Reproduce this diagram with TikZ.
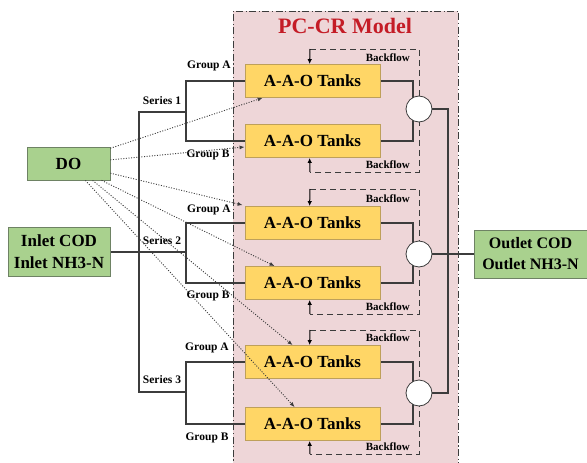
\documentclass[tikz,border=0pt]{standalone}
\usepackage{fontspec}
\setmainfont{Liberation Serif}
\usetikzlibrary{arrows.meta,calc,backgrounds}
\pgfdeclarelayer{bg}
\pgfdeclarelayer{lines}
\pgfsetlayers{bg,lines,main}
\definecolor{pinkbg}{RGB}{238,214,216}
\definecolor{tankfill}{RGB}{255,214,102}
\definecolor{tankline}{RGB}{190,160,90}
\definecolor{greenfill}{RGB}{169,209,142}
\definecolor{greenline}{RGB}{110,130,100}
\definecolor{titlered}{RGB}{196,28,38}
\definecolor{ln}{RGB}{60,60,60}
\tikzset{
  tank/.style={draw=tankline, fill=tankfill, line width=0.8pt, minimum width=135pt, minimum height=33pt, inner sep=0pt, font=\fontsize{17}{19}\selectfont\bfseries},
  gbox/.style={draw=greenline, fill=greenfill, line width=0.8pt, inner sep=0pt, align=center, font=\fontsize{17}{22}\selectfont\bfseries},
  mixer/.style={circle, draw=ln, fill=white, line width=0.8pt, minimum size=26pt, inner sep=0pt},
  conn/.style={draw=ln, line width=1.1pt},
  lbl/.style={font=\fontsize{11.5}{12}\selectfont\bfseries, inner sep=0pt},
  bflbl/.style={font=\fontsize{11}{12}\selectfont\bfseries, inner sep=0pt, anchor=east},
  bfline/.style={draw=ln, line width=1pt, dash pattern=on 6pt off 4pt},
  bfarrow/.style={draw=black, line width=1pt, -{Latex[length=5pt,width=4.5pt]}},
  doarrow/.style={draw=ln, line width=0.9pt, dash pattern=on 1pt off 1.6pt, -{Latex[length=5pt,width=4pt]}}
}
\begin{document}
\begin{tikzpicture}[x=1pt,y=-1pt]
\useasboundingbox (0,0) rectangle (587,463);
% model region
\begin{pgfonlayer}{bg}
\fill[pinkbg] (233,11) rectangle (458,470);
\draw[ln, line width=1pt, dash pattern=on 7pt off 2.5pt on 1.2pt off 2.5pt] (233,470) -- (233,11) -- (458,11) -- (458,470);
\end{pgfonlayer}
\node[font=\fontsize{22}{24}\selectfont\bfseries, text=titlered] (title) at (345,26) {PC-CR Model};

% tanks
\node[tank] (t1) at (312.5,81) {A-A-O Tanks};
\node[tank] (t2) at (312.5,141) {A-A-O Tanks};
\node[tank] (t3) at (312.5,223) {A-A-O Tanks};
\node[tank] (t4) at (312.5,283) {A-A-O Tanks};
\node[tank] (t5) at (312.5,362) {A-A-O Tanks};
\node[tank] (t6) at (312.5,424) {A-A-O Tanks};

% mixers
\node[mixer] (c1) at (419,109) {};
\node[mixer] (c2) at (419,254) {};
\node[mixer] (c3) at (419,393) {};

% green boxes
\node[gbox, minimum width=83pt, minimum height=33pt] (do) at (68.5,163.5) {DO};
\node[gbox, minimum width=102pt, minimum height=49pt] (inlet) at (59,252) {Inlet COD\\Inlet NH3-N};
\node[gbox, minimum width=113pt, minimum height=48pt, font=\fontsize{16}{21}\selectfont\bfseries] (outlet) at (530.5,254) {Outlet COD\\Outlet NH3-N};

% junction coordinates
\coordinate (s1) at (139,112);
\coordinate (s3) at (139,392);
\coordinate (g1) at (186,112);
\coordinate (g2) at (186,252);
\coordinate (g3) at (186,392);
\coordinate (o1) at (448,109);

\begin{pgfonlayer}{lines}
% inlet tree
\draw[conn] (inlet.east) -- (g2);
\draw[conn] (g1) -- (s1) -- (s3) -- (g3);
\draw[conn] (t1.west) -| (g1) |- (t2.west);
\draw[conn] (t3.west) -| (g2) |- (t4.west);
\draw[conn] (t5.west) -| (g3) |- (t6.west);
% tanks to mixers
\draw[conn] (t1.east) -| ($(c1)+(-6,0)$);
\draw[conn] (t2.east) -| ($(c1)+(-6,0)$);
\draw[conn] (t3.east) -| ($(c2)+(-6,0)$);
\draw[conn] (t4.east) -| ($(c2)+(-6,0)$);
\draw[conn] (t5.east) -| ($(c3)+(-6,0)$);
\draw[conn] (t6.east) -| ($(c3)+(-6,0)$);
% mixers to outlet
\draw[conn] (c1.east) -- (o1) |- (c3.east);
\draw[conn] (c2.east) -- (outlet.west);
% backflow loops
\draw[bfline] (310,49) -- (419,49) -- (419,172) -- (310,172);
\draw[bfline] (310,189) -- (419,189) -- (419,314) -- (310,314);
\draw[bfline] (310,330) -- (419,330) -- (419,454) -- (310,454);
\end{pgfonlayer}
\draw[bfarrow] (310,49) -- ($(t1.north west)+(65,0)$);
\draw[bfarrow] (310,172) -- ($(t2.south west)+(65,0)$);
\draw[bfarrow] (310,189) -- ($(t3.north west)+(65,0)$);
\draw[bfarrow] (310,314) -- ($(t4.south west)+(65,0)$);
\draw[bfarrow] (310,330) -- ($(t5.north west)+(65,0)$);
\draw[bfarrow] (310,454) -- ($(t6.south west)+(65,0)$);

\node[bflbl] (bf1) at (410,58) {Backflow};
\node[bflbl] (bf2) at (410,165) {Backflow};
\node[bflbl] (bf3) at (410,199) {Backflow};
\node[bflbl] (bf4) at (410,307) {Backflow};
\node[bflbl] (bf5) at (410,338) {Backflow};
\node[bflbl] (bf6) at (410,447) {Backflow};

% series / group labels
\node[lbl] (ls1) at (162,101) {Series 1};
\node[lbl] (ls2) at (162,241) {Series 2};
\node[lbl] (ls3) at (162,380) {Series 3};
\node[lbl] (la1) at (209,66) {Group A};
\node[lbl] (lb1) at (208,155) {Group B};
\node[lbl] (la2) at (209,210) {Group A};
\node[lbl] (lb2) at (208,296) {Group B};
\node[lbl] (la3) at (207,348) {Group A};
\node[lbl] (lb3) at (207,438) {Group B};

% DO dotted arrows
\draw[doarrow] (do.20) -- ($(t1.south west)+(18,0)$);
\draw[doarrow] (do.5) -- ($(t2.west)+(0,6)$);
\draw[doarrow] (do.-13) -- ($(t3.north west)+(-2,-1)$);
\draw[doarrow] (do.-27.6) -- ($(t4.north west)+(30,0)$);
\draw[doarrow] (do.-35) -- ($(t5.north west)+(48,0)$);
\draw[doarrow] (do.-45) -- ($(t6.north west)+(50,0)$);
\end{tikzpicture}
\end{document}
